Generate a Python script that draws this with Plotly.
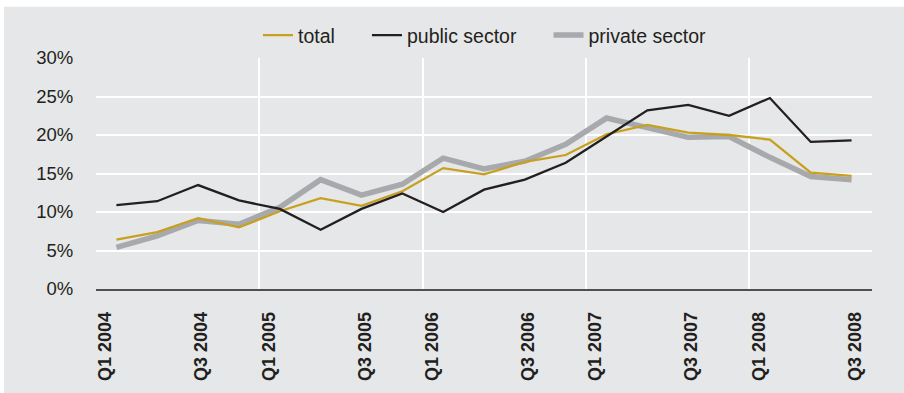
import plotly.graph_objects as go

# Quarterly series, Q1 2004 .. Q3 2008 (percent)
quarters = [f"Q{q} {y}" for y in range(2004, 2009) for q in range(1, 5)][:19]
total = [6.4, 7.4, 9.2, 8.0, 10.1, 11.8, 10.8, 12.7, 15.7, 14.9, 16.5, 17.4,
         20.1, 21.3, 20.3, 20.0, 19.4, 15.1, 14.7]
public_sector = [10.9, 11.4, 13.5, 11.5, 10.4, 7.7, 10.4, 12.4, 10.0, 12.9, 14.2,
                 16.4, 19.8, 23.2, 23.9, 22.5, 24.8, 19.1, 19.3]
private_sector = [5.4, 6.9, 8.9, 8.4, 10.6, 14.2, 12.2, 13.6, 17.0, 15.6, 16.6,
                  18.8, 22.2, 21.0, 19.7, 19.8, 17.1, 14.6, 14.2]

# Labelled quarters (every second quarter)
label_idx = [0, 2, 4, 6, 8, 10, 12, 14, 16, 18]
y_ticks = [0, 5, 10, 15, 20, 25, 30]
y_labels = [f"{v}%" for v in y_ticks]

BG = "#e6e7e8"
GOLD = "#c8a01f"
BLACK = "#231f20"
GREY = "#a7a9ac"
FONT = "Liberation Sans, Arial, sans-serif"
PAD = "\u00a0" * 5  # extra room between legend entries

x = list(range(len(quarters)))

fig = go.Figure()
fig.add_trace(go.Scatter(x=x, y=private_sector, name="private sector", mode="lines",
                         line=dict(color=GREY, width=5.5), legendrank=3))
fig.add_trace(go.Scatter(x=x, y=total, name="total" + PAD, mode="lines",
                         line=dict(color=GOLD, width=2.3), legendrank=1))
fig.add_trace(go.Scatter(x=x, y=public_sector, name="public sector" + PAD, mode="lines",
                         line=dict(color=BLACK, width=2.3), legendrank=2))

# Q1 labels sit just left of the category centre, Q3 labels on it
tick_pos = [i - 0.27 if quarters[i].startswith("Q1") else i + 0.08 for i in label_idx]
tick_txt = ["<b>" + quarters[i].replace(" ", "\u00a0") + "</b>" for i in label_idx]

# year boundaries for the vertical grid
year_bounds = [i - 0.5 for i in range(1, len(quarters)) if quarters[i].startswith("Q1")]

fig.update_layout(
    width=904, height=393,
    margin=dict(l=96, r=32, t=58, b=101),
    paper_bgcolor=BG, plot_bgcolor=BG,
    font=dict(family=FONT, size=18, color=BLACK),
    showlegend=True,
    legend=dict(orientation="h", x=(258 - 96) / 776, xanchor="left", y=1.098,
                yanchor="middle", bgcolor="rgba(0,0,0,0)",
                font=dict(size=19.5, color=BLACK), traceorder="normal"),
    xaxis=dict(range=[-0.5, len(quarters) - 0.5], tickmode="array",
               tickvals=tick_pos, ticktext=tick_txt, tickangle=-90,
               ticks="outside", ticklen=14, tickcolor="rgba(0,0,0,0)",
               tickfont=dict(size=18, color=BLACK),
               showgrid=False, zeroline=False,
               showline=True, linecolor="#505052", linewidth=1.6),
    xaxis2=dict(range=[-0.5, len(quarters) - 0.5], overlaying="x",
                tickmode="array", tickvals=year_bounds, showticklabels=False,
                showgrid=True, gridcolor="white", gridwidth=1.5, zeroline=False,
                ticks=""),
    yaxis=dict(range=[0, 30], tickmode="array", tickvals=y_ticks, ticktext=y_labels,
               ticks="outside", ticklen=18, tickcolor="rgba(0,0,0,0)",
               tickfont=dict(size=18.5, color=BLACK),
               showgrid=True, gridcolor="white", gridwidth=1.5, zeroline=False),
    shapes=[
        dict(type="rect", xref="paper", yref="paper", x0=-0.2, x1=1.1,
             y0=(292 - 6) / 234, y1=1.4, fillcolor="white", line_width=0, layer="above"),
        dict(type="rect", xref="paper", yref="paper", x0=-0.2, x1=-92 / 776,
             y0=-0.6, y1=1.4, fillcolor="white", line_width=0, layer="above"),
    ],
)

# invisible trace that carries the year-boundary grid on xaxis2
fig.add_trace(go.Scatter(x=[year_bounds[0]], y=[0], xaxis="x2", mode="markers",
                         marker=dict(opacity=0), showlegend=False, hoverinfo="skip"))

fig.write_html("out.html")
